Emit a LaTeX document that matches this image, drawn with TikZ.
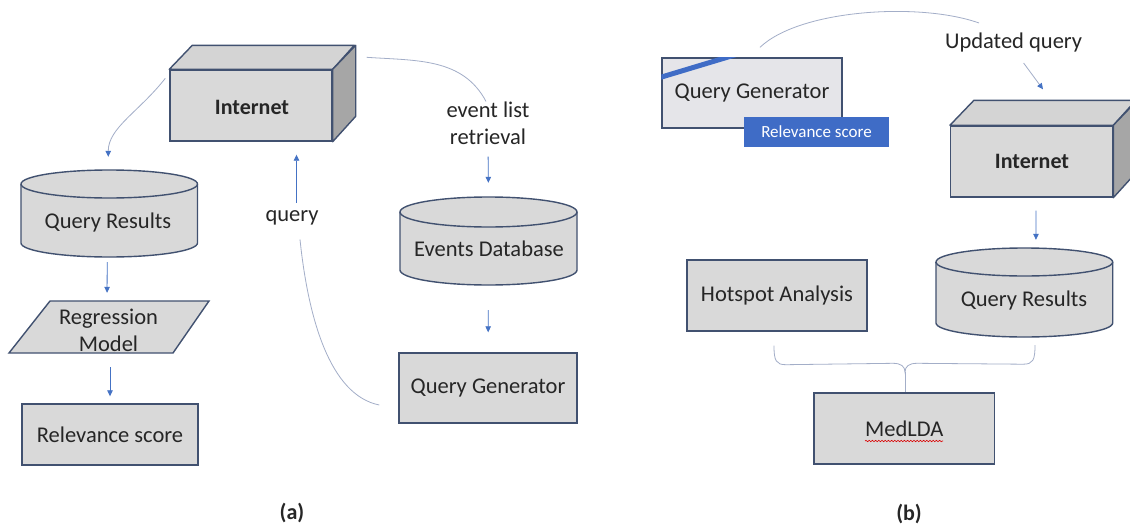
\documentclass[tikz,border=0pt]{standalone}
\usepackage{fontspec}
\setmainfont{Carlito}
\usetikzlibrary{arrows.meta,decorations.pathmorphing}
\definecolor{edgec}{HTML}{415170}
\definecolor{boxfill}{HTML}{D9D9D9}
\definecolor{topc}{HTML}{D4D4D4}
\definecolor{sidec}{HTML}{A6A6A6}
\definecolor{lightfill}{HTML}{E5E5E9}
\definecolor{bluec}{HTML}{3F6CC6}
\definecolor{arrc}{HTML}{4472C4}
\definecolor{crvc}{HTML}{A3AEC8}
\definecolor{txtc}{HTML}{262626}
\tikzset{
  box/.style={draw=edgec, fill=boxfill, line width=1.4pt, inner sep=0pt},
  ghost/.style={inner sep=0pt},
  txt/.style={font=\fontsize{22.5}{27}\selectfont, text=txtc, align=center, inner sep=0pt},
  btxt/.style={font=\fontsize{22}{26}\selectfont\bfseries, text=txtc, align=center, inner sep=0pt},
  arr/.style={draw=arrc, line width=0.8pt, -{Triangle[length=6pt,width=5.5pt,color=arrc]}},
  carr/.style={draw=crvc, line width=0.8pt, -{Triangle[length=6pt,width=5.5pt,color=arrc]}},
  crv/.style={draw=crvc, line width=0.8pt},
}
\begin{document}
\begin{tikzpicture}[x=1pt,y=1pt]
\useasboundingbox[fill=white] (0,0) rectangle (1130,-530);

% ================= panel (a) =================
% Internet (a)
\node[box, minimum width=162pt, minimum height=71pt] (inta) at (251,-105.5) {};
\draw[draw=edgec, line width=1.4pt, fill=topc, line join=round] (inta.north west) -- ++(23,24) -- ++(162,0) -- (inta.north east) -- cycle;
\draw[draw=edgec, line width=1.4pt, fill=sidec, line join=round] (inta.north east) -- ++(23,24) -- ++(0,-71) -- (inta.south east) -- cycle;
\node[btxt] (intatxt) at (252,-107) {Internet};

% Query Results (a) cylinder
\path[box] (21,-184) -- (21,-243) arc[start angle=180, end angle=360, x radius=88.25, y radius=14] -- (197.5,-184) arc[start angle=0, end angle=180, x radius=88.25, y radius=14] -- cycle;
\draw[draw=edgec, line width=1.4pt] (21,-184) arc[start angle=180, end angle=360, x radius=88.25, y radius=14];
\node[ghost, minimum width=176.5pt, minimum height=87pt] (qra) at (109.25,-213.5) {};
\node[txt] (qratxt) at (108,-222) {Query Results};

% Regression Model parallelogram
\draw[box] (50,-301) -- (209,-301) -- (173,-353) -- (9,-353) -- cycle;
\node[ghost, minimum width=200pt, minimum height=52pt] (reg) at (109,-327) {};
\node[txt] (regtxt) at (108.5,-330) {Regression\\Model};

% Relevance score (a)
\node[box, txt, minimum width=176pt, minimum height=61pt] (rela) at (110,-434.5) {Relevance score};

% Events Database cylinder
\path[box] (400,-212) -- (400,-270) arc[start angle=180, end angle=360, x radius=88.5, y radius=15] -- (577,-212) arc[start angle=0, end angle=180, x radius=88.5, y radius=15] -- cycle;
\draw[draw=edgec, line width=1.4pt] (400,-212) arc[start angle=180, end angle=360, x radius=88.5, y radius=15];
\node[ghost, minimum width=177pt, minimum height=88pt] (evdb) at (488.5,-241) {};
\node[txt] (evdbtxt) at (489,-249) {Events Database};

% Query Generator (a)
\node[box, txt, minimum width=178pt, minimum height=70pt] (qga) at (488,-388) {Query Generator};

% labels
\node[txt] (evl) at (488,-123) {event list\\retrieval};
\node[txt] (qlab) at (292,-218) {query};
\node[btxt] (alab) at (292,-513) {(a)};

% connectors (a)
\draw[carr, shorten >=13pt] ([shift={(-4,-9)}]inta.north west) to[out=232,in=90] ([xshift=-1]qra.north);
\draw[arr, shorten <=5pt, shorten >=8pt] ([xshift=-2]qra.south) -- ([xshift=-2]reg.north);
\draw[arr, shorten <=14pt, shorten >=7pt] ([xshift=1]reg.south) -- (rela.north);
\draw[crv] ([shift={(34,12)}]inta.north east) to[out=-4,in=118] ([xshift=-2]evl.north);
\draw[arr, shorten <=12pt, shorten >=14pt] (evl.south) -- (evdb.north);
\draw[arr, shorten <=25pt, shorten >=20pt] (evdb.south) -- (qga.north);
\draw[crv] ([shift={(-19,-17)}]qga.west) .. controls +(-50,10) and +(8,-77) .. ([shift={(8,-14)}]qlab.south);
\draw[arr, shorten <=8pt, shorten >=13pt] ([xshift=4.5]qlab.north) -- ([xshift=45.5]inta.south);

% ================= panel (b) =================
% Query Generator (b)
\node[box, fill=lightfill, txt, minimum width=180pt, minimum height=70pt] (qgb) at (752,-93) {Query Generator};
\begin{scope}
  \clip (qgb.south west) rectangle (qgb.north east);
  \draw[bluec, line width=5pt] (655,-79) -- (738,-54);
\end{scope}
\node[fill=bluec, inner sep=0pt, minimum width=144.5pt, minimum height=30pt, text=white, font=\fontsize{17}{20}\selectfont] (relb) at (816.5,-132) {Relevance score};

% Internet (b)
\node[box, minimum width=162pt, minimum height=71pt] (intb) at (1031.6,-161.5) {};
\draw[draw=edgec, line width=1.4pt, fill=topc, line join=round] (intb.north west) -- ++(24,25) -- ++(162,0) -- (intb.north east) -- cycle;
\draw[draw=edgec, line width=1.4pt, fill=sidec, line join=round] (intb.north east) -- ++(24,25) -- ++(0,-71) -- (intb.south east) -- cycle;
\node[btxt] (intbtxt) at (1032,-161) {Internet};

% Query Results (b) cylinder
\path[box] (936,-262) -- (936,-323) arc[start angle=180, end angle=360, x radius=88.35, y radius=14] -- (1112.7,-262) arc[start angle=0, end angle=180, x radius=88.35, y radius=14] -- cycle;
\draw[draw=edgec, line width=1.4pt] (936,-262) arc[start angle=180, end angle=360, x radius=88.35, y radius=14];
\node[ghost, minimum width=176.7pt, minimum height=89pt] (qrb) at (1024.35,-292.5) {};
\node[txt] (qrbtxt) at (1024,-300) {Query Results};

% Hotspot Analysis
\node[box, txt, minimum width=180pt, minimum height=71pt] (hot) at (777,-295.5) {Hotspot Analysis};

% MedLDA
\node[box, txt, minimum width=180.5pt, minimum height=71pt] (med) at (904.25,-428.5) {MedLDA};
\draw[red!85!black, line width=0.6pt, decorate, decoration={snake, segment length=3.2pt, amplitude=0.7pt}] (865,-441) -- (943,-441);

% labels
\node[txt] (ulab) at (1013.6,-43) {Updated query};
\node[btxt] (blab) at (909,-514) {(b)};

% connectors (b)
\draw[crv] ([shift={(8,10)}]qgb.north) .. controls +(40,38) and +(-59,21) .. ([shift={(-34.6,20)}]ulab.center);
\draw[carr] ([shift={(10,-20)}]ulab.center) -- ([shift={(11.4,36)}]intb.north);
\draw[arr, shorten <=13pt, shorten >=8pt] ([xshift=4.4]intb.south) -- ([xshift=11.6]qrb.north);

% brace joining Hotspot Analysis and Query Results into MedLDA
\coordinate (brL) at ([shift={(-3,-14)}]hot.south);
\coordinate (brR) at ([shift={(10.65,-8)}]qrb.south);
\coordinate (brT) at ([shift={(0.75,20)}]med.north);
\draw[crv] (brL) .. controls +(0,-15) and +(-10,0) .. ++(12,-19) -- ([shift={(-12,9)}]brT)
  .. controls +(8,0) and +(0,6) .. (brT)
  .. controls +(0,6) and +(-8,0) .. ([shift={(12,9)}]brT) -- ([shift={(-12,-19)}]brR)
  .. controls +(10,0) and +(0,-15) .. (brR);
\draw[crv] (brT) -- ([xshift=0.75]med.north);
\end{tikzpicture}
\end{document}
